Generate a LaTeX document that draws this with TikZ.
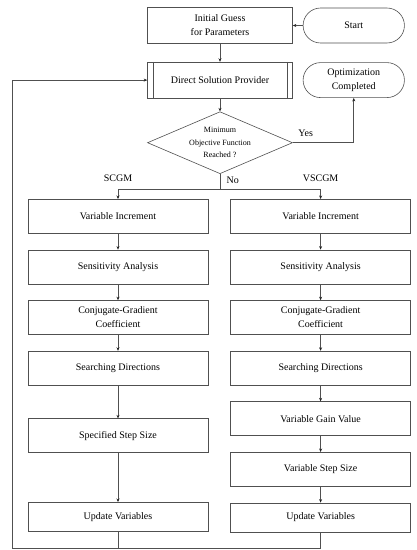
\documentclass[tikz,border=0pt]{standalone}
\usepackage{fontspec}
\setmainfont{Liberation Serif}
\usepackage{xcolor}
\usetikzlibrary{shapes.geometric, shapes.misc, arrows.meta, positioning, calc}
\definecolor{LineGray}{HTML}{505050}
\definecolor{TipBlack}{HTML}{222222}

\begin{document}
\begin{tikzpicture}[
    box/.style={draw=LineGray,line width=0.6pt,minimum width=180pt,minimum height=34pt,
                inner sep=2pt,align=center,font=\fontsize{10}{14}\selectfont},
    topbox/.style={box,minimum width=145pt,minimum height=36pt},
    term/.style={draw=LineGray,line width=0.6pt,rounded rectangle,minimum width=108pt,
                 minimum height=35pt,align=center,font=\fontsize{10}{14}\selectfont},
    decision/.style={draw=LineGray,line width=0.6pt,diamond,aspect=2.34,inner sep=0pt,
                     minimum width=145pt,minimum height=62pt,align=center,
                     font=\fontsize{8}{12.5}\selectfont},
    link/.style={draw=LineGray,line width=0.6pt,-{Stealth[length=3.5pt,width=3pt,color=TipBlack]}},
    plain/.style={draw=LineGray,line width=0.6pt},
    tag/.style={font=\fontsize{10}{12}\selectfont}
]
    \useasboundingbox (0,0) rectangle (416pt,-550pt);

    % Top part
    \node[topbox] (init) at (220pt,-25.5pt) {Initial Guess\\for Parameters};
    \node[term,right=10pt of init] (start) {Start};
    \node[topbox,below=18pt of init] (dsp) {Direct Solution Provider};
    \draw[plain] ([xshift=6pt]dsp.north west) -- ([xshift=6pt]dsp.south west);
    \draw[plain] ([xshift=-6pt]dsp.north east) -- ([xshift=-6pt]dsp.south east);
    \node[term,right=10pt of dsp] (opt) {Optimization\\Completed};
    \node[decision,below=13pt of dsp] (dec) {Minimum\\Objective Function\\Reached ?};

    % SCGM column
    \node[box,below=25pt of dec,xshift=-102pt] (lvi) {Variable Increment};
    \node[box,below=16pt of lvi] (lsa) {Sensitivity Analysis};
    \node[box,below=16pt of lsa] (lcg) {Conjugate-Gradient\\Coefficient};
    \node[box,below=16pt of lcg] (lsd) {Searching Directions};
    \node[box,below=33pt of lsd] (lss) {Specified Step Size};
    \node[box,minimum height=29pt,below=49pt of lss] (luv) {Update Variables};

    % VSCGM column
    \node[box,right=22pt of lvi] (rvi) {Variable Increment};
    \node[box,below=16pt of rvi] (rsa) {Sensitivity Analysis};
    \node[box,below=16pt of rsa] (rcg) {Conjugate-Gradient\\Coefficient};
    \node[box,below=16pt of rcg] (rsd) {Searching Directions};
    \node[box,below=16pt of rsd] (rgv) {Variable Gain Value};
    \node[box,below=16pt of rgv] (rss) {Variable Step Size};
    \node[box,minimum height=29pt,below=16pt of rss] (ruv) {Update Variables};

    % Connectors
    \draw[link] (start) -- (init);
    \draw[link] (init) -- (dsp);
    \draw[link] (dsp) -- (dec);
    \draw[link] (dec.east) -| node[tag,above right=2pt and 2pt,pos=0] {Yes} (opt.south);
    \draw[plain] (dec.south) -- node[tag,right=3pt,pos=0.45] {No} ++(0,-15pt) coordinate (split);
    \draw[link] (split) -| (lvi.north);
    \draw[link] (split) -| (rvi.north);
    \node[tag,above=4pt] (scgm) at (split -| lvi.north) {SCGM};
    \node[tag,above=4pt] (vscgm) at (split -| rvi.north) {VSCGM};

    \foreach \a/\b in {lvi/lsa, lsa/lcg, lcg/lsd, lsd/lss, lss/luv,
                       rvi/rsa, rsa/rcg, rcg/rsd, rsd/rgv, rgv/rss, rss/ruv}
        \draw[link] (\a) -- (\b);

    % Loop back
    \draw[plain] (luv.south) -- ++(0,-17pt);
    \draw[link] (ruv.south) |- ($(luv.south)+(-106pt,-17pt)$) |- (dsp.west);
\end{tikzpicture}
\end{document}
